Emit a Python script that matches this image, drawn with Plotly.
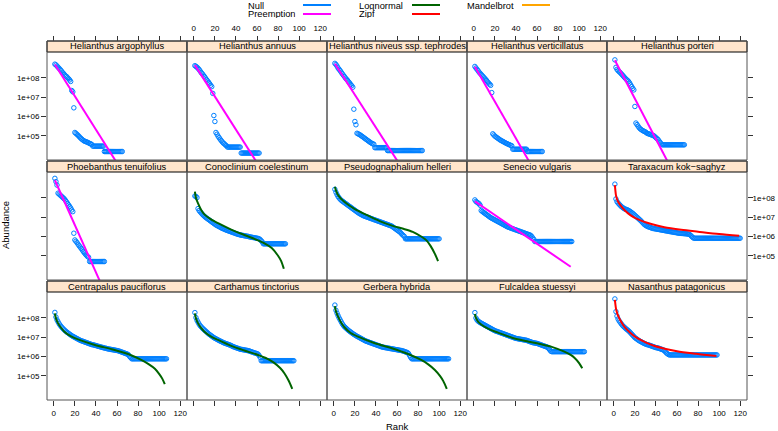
import plotly.graph_objects as go

W, H = 778, 431

# ---------------- data (log10 abundance by rank) ----------------
titles = ["Helianthus argophyllus", "Helianthus annuus", "Helianthus niveus ssp. tephrodes",
          "Helianthus verticillatus", "Helianthus porteri",
          "Phoebanthus tenuifolius", "Conoclinium coelestinum", "Pseudognaphalium helleri",
          "Senecio vulgaris", "Taraxacum kok\u2212saghyz",
          "Centrapalus pauciflorus", "Carthamus tinctorius", "Gerbera hybrida",
          "Fulcaldea stuessyi", "Nasanthus patagonicus"]

abund_1 = [8.72, 8.68, 8.62, 8.56, 8.50, 8.44, 8.38, 8.30, 8.25, 8.18, 8.12, 8.08, 8.02, 7.96, 7.90, 7.82,
           7.35, 7.28, 6.45,
           5.17, 5.12, 5.07, 5.02, 4.96, 4.90, 4.85, 4.80, 4.76, 4.72, 4.70, 4.68, 4.66, 4.63, 4.60, 4.58, 4.55] \
          + [4.46] * 11 + [4.18] * 18
abund_2 = [8.64, 8.60, 8.56, 8.50, 8.44, 8.36, 8.28, 8.22, 8.15, 8.08, 8.00, 7.92, 7.85, 7.78, 7.70, 7.62, 7.55,
           7.20, 6.05, 5.74,
           5.17, 5.08, 4.98, 4.90, 4.82, 4.75, 4.68, 4.62, 4.58, 4.52, 4.48] + [4.41] * 13 + [4.10] * 18
abund_3 = [8.76, 8.70, 8.62, 8.52, 8.45, 8.38, 8.30, 8.22, 8.15, 8.08, 8.00, 7.94, 7.88, 7.80, 7.74, 7.66, 7.60, 7.52,
           6.38, 5.74, 5.57,
           5.13, 5.10, 5.07, 5.04, 5.00, 4.96, 4.92, 4.88, 4.84, 4.80, 4.76, 4.72, 4.68, 4.64, 4.61, 4.58, 4.56] \
          + [4.38] * 12 + [4.23] * 34
abund_4 = [8.60, 8.52, 8.45, 8.38, 8.30, 8.24, 8.18, 8.12, 8.06, 8.00, 7.94, 7.88, 7.80, 7.74, 7.68, 7.62, 7.24,
           5.10, 5.04, 4.98, 4.94, 4.90, 4.86, 4.82, 4.78, 4.75, 4.72, 4.69, 4.66, 4.63, 4.60, 4.58, 4.55, 4.53,
           4.50, 4.48] + [4.30] * 14 + [4.18] * 15
abund_5 = [8.94, 8.55, 8.45, 8.38, 8.33, 8.28, 8.22, 8.16, 8.10, 8.04, 7.98, 7.92, 7.88, 7.82, 7.74, 7.64, 7.55,
           7.46, 7.38, 6.52,
           5.66, 5.58, 5.50, 5.42, 5.36, 5.32, 5.28, 5.25, 5.22, 5.20,
           5.15, 5.12, 5.10, 5.08, 5.06, 5.04, 5.02, 5.00, 4.95, 4.90, 4.85, 4.80, 4.72, 4.65, 4.58] + [4.53] * 22
abund_6 = [9.02, 8.85, 8.67, 8.25, 8.20, 8.15, 8.10, 8.05, 8.00, 7.95, 7.88, 7.80, 7.72, 7.64, 7.56, 7.48, 7.38,
           7.29, 6.17,
           5.82, 5.75, 5.68, 5.60, 5.52, 5.45, 5.38, 5.30, 5.22, 5.15, 5.08, 5.02, 4.96, 4.92] + [4.70] * 15
abund_7 = [8.10, 8.08, 8.02, 7.45, 7.35, 7.28, 7.22, 7.16, 7.10, 7.05,
           7.00, 6.96, 6.92, 6.88, 6.84, 6.80, 6.76, 6.72, 6.68, 6.64,
           6.60, 6.57, 6.54, 6.51, 6.48, 6.45, 6.42, 6.40, 6.38, 6.35,
           6.33, 6.31, 6.29, 6.27, 6.25, 6.23, 6.21, 6.19, 6.17, 6.15,
           6.13, 6.11, 6.10, 6.08, 6.07, 6.06, 6.05, 6.04, 6.03, 6.02,
           6.01, 6.00, 5.98, 5.97, 5.96, 5.95, 5.94, 5.93, 5.92, 5.91,
           5.90, 5.88, 5.84, 5.78, 5.72] + [5.62] * 22
abund_8 = [8.45, 8.30, 8.18, 8.08, 8.00, 7.94, 7.88, 7.84, 7.80, 7.76,
           7.72, 7.68, 7.64, 7.60, 7.56, 7.52, 7.48, 7.44, 7.40, 7.36,
           7.32, 7.28, 7.24, 7.20, 7.17, 7.14, 7.11, 7.08, 7.06, 7.04,
           7.02, 7.00, 6.98, 6.96, 6.94, 6.92, 6.90, 6.88, 6.86, 6.84,
           6.82, 6.80, 6.78, 6.76, 6.74, 6.72, 6.70, 6.68, 6.66, 6.64,
           6.62, 6.60, 6.58, 6.56, 6.54, 6.50, 6.46, 6.42, 6.38, 6.34,
           6.30, 6.26, 6.22, 6.16, 6.10, 6.05, 6.00] + [5.88] * 33
abund_9 = [7.90, 7.82, 7.78, 7.74, 7.70, 7.62,
           7.35, 7.30, 7.26, 7.22, 7.18, 7.14, 7.10, 7.06, 7.02, 6.98, 6.95, 6.92, 6.89, 6.86,
           6.83, 6.80, 6.77, 6.74, 6.71, 6.68, 6.65, 6.62, 6.59, 6.56,
           6.53, 6.50, 6.48, 6.46, 6.44, 6.42, 6.40, 6.38, 6.36, 6.34,
           6.32, 6.30, 6.28, 6.26, 6.24, 6.22, 6.20, 6.18, 6.16, 6.14, 6.12, 6.10, 6.08, 6.06, 6.00, 5.92,
           5.85] + [5.74] * 36
abund_10 = [8.72, 7.95, 7.81, 7.74, 7.68, 7.62, 7.56, 7.52, 7.48, 7.44,
            7.42, 7.40, 7.38, 7.35, 7.32, 7.28, 7.24, 7.20, 7.15, 7.10,
            7.05, 7.00, 6.95, 6.90, 6.85, 6.80, 6.74, 6.68, 6.62, 6.58,
            6.55, 6.52, 6.50, 6.48, 6.46, 6.44, 6.42, 6.41, 6.40, 6.39,
            6.38, 6.37, 6.36, 6.35, 6.34, 6.33, 6.32, 6.31, 6.30, 6.29,
            6.28, 6.27, 6.26, 6.25, 6.24, 6.23, 6.22, 6.21, 6.20, 6.19,
            6.18, 6.17, 6.17, 6.16, 6.16, 6.15, 6.15, 6.14, 6.14, 6.13, 6.12, 6.10, 6.06, 6.00,
            5.95] + [5.91] * 45
abund_11 = [8.29, 8.05, 7.90, 7.80, 7.70, 7.62, 7.55, 7.49, 7.43, 7.38,
            7.33, 7.28, 7.24, 7.20, 7.16, 7.12, 7.08, 7.05, 7.02, 6.99,
            6.96, 6.93, 6.90, 6.87, 6.84, 6.82, 6.80, 6.78, 6.76, 6.74,
            6.72, 6.70, 6.68, 6.66, 6.64, 6.62, 6.61, 6.60, 6.58, 6.57,
            6.55, 6.53, 6.52, 6.50, 6.49, 6.47, 6.46, 6.44, 6.43, 6.42,
            6.40, 6.39, 6.38, 6.37, 6.36, 6.35, 6.34, 6.33, 6.32, 6.31,
            6.30, 6.28, 6.26, 6.24, 6.22, 6.20, 6.18, 6.16, 6.14, 6.12, 6.08, 6.00,
            5.94] + [5.88] * 34
abund_12 = [8.28, 8.02, 7.88, 7.78, 7.68, 7.60, 7.54, 7.48, 7.43, 7.38,
            7.33, 7.28, 7.23, 7.18, 7.14, 7.10, 7.06, 7.02, 6.98, 6.95,
            6.92, 6.89, 6.86, 6.83, 6.80, 6.78, 6.75, 6.72, 6.70, 6.68,
            6.66, 6.64, 6.62, 6.60, 6.58, 6.55, 6.52, 6.50, 6.48, 6.46,
            6.44, 6.42, 6.40, 6.38, 6.37, 6.36, 6.35, 6.34, 6.33, 6.32,
            6.31, 6.30, 6.28, 6.26, 6.24, 6.22, 6.20, 6.18, 6.17, 6.15, 6.12, 6.05,
            5.95] + [5.78] * 32
abund_13 = [8.67, 8.40, 8.25, 8.12, 8.00, 7.90, 7.80, 7.70, 7.62, 7.55,
            7.50, 7.45, 7.40, 7.35, 7.31, 7.27, 7.23, 7.19, 7.15, 7.12,
            7.08, 7.05, 7.02, 6.99, 6.96, 6.93, 6.90, 6.87, 6.84, 6.81,
            6.79, 6.77, 6.75, 6.73, 6.71, 6.69, 6.67, 6.65, 6.63, 6.61,
            6.59, 6.57, 6.55, 6.53, 6.51, 6.49, 6.48, 6.47, 6.46, 6.45,
            6.44, 6.43, 6.42, 6.41, 6.40, 6.39, 6.38, 6.37, 6.36, 6.35,
            6.34, 6.33, 6.32, 6.31, 6.30, 6.28, 6.26, 6.24, 6.22, 6.20, 6.15, 6.05,
            5.95] + [5.88] * 36
abund_14 = [8.28, 8.00, 7.90, 7.84, 7.80, 7.76, 7.73, 7.70, 7.67, 7.64,
            7.61, 7.58, 7.55, 7.52, 7.49, 7.46, 7.43, 7.40, 7.37, 7.34,
            7.32, 7.30, 7.28, 7.26, 7.24, 7.22, 7.20, 7.18, 7.16, 7.14,
            7.12, 7.10, 7.08, 7.06, 7.04, 7.02, 7.00, 6.98, 6.96, 6.94,
            6.93, 6.92, 6.91, 6.90, 6.89, 6.88, 6.87, 6.86, 6.85, 6.84,
            6.82, 6.80, 6.78, 6.76, 6.74, 6.72, 6.71, 6.70, 6.69, 6.68,
            6.66, 6.64, 6.62, 6.60, 6.58, 6.56, 6.54, 6.52, 6.50, 6.48, 6.42, 6.35,
            6.28] + [6.25] * 32
abund_15 = [8.99, 8.33, 8.10, 7.95, 7.85, 7.78, 7.70, 7.63, 7.57, 7.52,
            7.47, 7.42, 7.38, 7.33, 7.28, 7.22, 7.16, 7.10, 7.04, 6.98,
            6.94, 6.90, 6.86, 6.82, 6.79, 6.76, 6.73, 6.70, 6.67, 6.65,
            6.63, 6.61, 6.60, 6.58, 6.56, 6.54, 6.52, 6.50, 6.48, 6.46,
            6.45, 6.44, 6.42, 6.40, 6.38, 6.36, 6.34, 6.30, 6.24, 6.18,
            6.14, 6.10] + [6.08] * 46

# fitted model curves: (model, ranks, log10 abundance)
fit_1 = ("Preemption", [1, 65], [8.70, 3.15])
fit_2 = ("Preemption", [1, 65], [8.67, 3.17])
fit_3 = ("Preemption", [1, 65], [8.74, 3.30])
fit_4 = ("Preemption", [1, 60], [8.58, 2.95])
fit_5 = ("Preemption", [1, 55], [8.92, 3.25])
fit_6 = ("Preemption", [1, 50], [8.92, 2.91])
fit_7 = ("Lognormal", [1, 2, 4, 7, 10, 16, 23, 35.5, 48, 61, 68, 74, 80, 83, 85.5],
         [8.33, 8.00, 7.72, 7.38, 7.15, 6.90, 6.69, 6.36, 6.08, 5.80, 5.62, 5.40, 5.00, 4.72, 4.32])
fit_8 = ("Lognormal", [1, 2, 4, 10, 20, 30, 43.5, 56, 66, 75, 83, 88, 92, 96, 99],
         [8.59, 8.40, 8.15, 7.80, 7.42, 7.15, 6.80, 6.55, 6.40, 6.24, 6.00, 5.80, 5.50, 5.10, 4.72])
fit_9 = ("Preemption", [1, 92], [7.82, 4.43])
fit_10 = ("Zipf", [1, 2, 3, 4, 6, 10, 16, 23, 35.6, 48, 64, 80, 100, 119],
          [8.67, 8.15, 7.95, 7.82, 7.64, 7.38, 7.10, 6.89, 6.65, 6.48, 6.35, 6.25, 6.13, 6.04])
fit_11 = ("Lognormal", [1, 2, 4, 7, 10, 16, 23, 39, 55, 70.5, 83, 90, 96, 100, 103, 105.4],
          [8.24, 7.98, 7.72, 7.48, 7.29, 7.06, 6.89, 6.60, 6.38, 6.13, 5.82, 5.60, 5.36, 5.10, 4.85, 4.56])
fit_12 = ("Lognormal", [1, 2, 4, 7, 10, 16, 23, 35.6, 48, 61, 70, 76, 82, 86, 90, 93.5],
          [8.24, 7.98, 7.72, 7.47, 7.29, 7.05, 6.86, 6.55, 6.31, 6.08, 5.88, 5.68, 5.40, 5.13, 4.75, 4.32])
fit_13 = ("Lognormal", [1, 2, 4, 7, 10, 16, 23, 39, 55, 70.5, 83, 90, 96, 101, 104, 107.3],
          [8.62, 8.35, 8.07, 7.75, 7.52, 7.22, 7.03, 6.69, 6.43, 6.13, 5.82, 5.58, 5.30, 4.98, 4.72, 4.32])
fit_14 = ("Lognormal", [1, 2, 4, 7, 10, 16, 23, 35.6, 48, 61, 74, 86, 92, 96, 100, 103],
          [8.21, 8.00, 7.81, 7.66, 7.55, 7.38, 7.24, 6.99, 6.82, 6.67, 6.50, 6.25, 6.08, 5.91, 5.66, 5.39])
fit_15 = ("Zipf", [1, 2, 3, 4, 6, 8.5, 12, 18, 24, 30.7, 38, 46.5, 54, 62.4, 70, 78.3, 88, 97.4],
          [8.94, 8.50, 8.28, 8.12, 7.90, 7.66, 7.42, 7.12, 6.90, 6.72, 6.56, 6.43, 6.34, 6.25, 6.19, 6.14,
           6.08, 6.03])

abund = [abund_1, abund_2, abund_3, abund_4, abund_5, abund_6, abund_7, abund_8, abund_9, abund_10,
         abund_11, abund_12, abund_13, abund_14, abund_15]
fits = [fit_1, fit_2, fit_3, fit_4, fit_5, fit_6, fit_7, fit_8, fit_9, fit_10,
        fit_11, fit_12, fit_13, fit_14, fit_15]

legend_names = ["Null", "Preemption", "Lognormal", "Zipf", "Mandelbrot"]
x_ticks = [0, 20, 40, 60, 80, 100, 120]
y_ticks = [1e5, 1e6, 1e7, 1e8]
y_ticktext = ["1e+05", "1e+06", "1e+07", "1e+08"]

# ---------------- styling ----------------
COLORS = {"Null": "#0080ff", "Preemption": "#ff00ff", "Lognormal": "#006400",
          "Zipf": "#ff0000", "Mandelbrot": "#ffa500"}
FONT = "Liberation Sans, Arial, Helvetica, sans-serif"
STRIP_BG = "#ffe5cc"
BORDER = "#555555"

PANEL_L, PANEL_W = 47, 140
ROW_TOP = [52, 172, 292]
ROW_BOT = [160, 280, 400]
STRIP_TOP = [41, 161, 281]


def px(x):
    return x / W


def py(y):
    return 1 - y / H


fig = go.Figure()
layout = {}
shapes = []
annotations = []

for i in range(15):
    r, c = divmod(i, 5)
    k = "" if i == 0 else str(i + 1)
    xa, ya = "x" + k, "y" + k
    x0, x1 = PANEL_L + PANEL_W * c, PANEL_L + PANEL_W * (c + 1)

    vals = abund[i]
    fig.add_trace(go.Scatter(
        x=list(range(1, len(vals) + 1)), y=[10 ** v for v in vals], mode="markers",
        marker=dict(symbol="circle-open", size=4.5, color=COLORS["Null"], line=dict(width=1)),
        xaxis=xa, yaxis=ya, showlegend=False, hoverinfo="skip"))
    model, fr, fv = fits[i]
    fig.add_trace(go.Scatter(
        x=fr, y=[10 ** v for v in fv], mode="lines",
        line=dict(color=COLORS[model], width=2, shape="linear" if model == "Preemption" else "spline",
                  smoothing=0.8),
        xaxis=xa, yaxis=ya, showlegend=False, hoverinfo="skip"))

    xaxis = dict(domain=[px(x0), px(x1)], range=[-6.5, 126.5], showgrid=False, zeroline=False,
                 showline=False, tickvals=x_ticks, ticktext=[str(t) for t in x_ticks],
                 tickfont=dict(family=FONT, size=8, color="black"), ticks="",
                 showticklabels=False, anchor=ya, fixedrange=True)
    if r == 0:
        xaxis.update(side="top", anchor="free", position=py(STRIP_TOP[0]), ticks="outside",
                     ticklen=5, tickcolor="#333333", showticklabels=(c in (1, 3)), ticklabelstandoff=2)
    elif r == 2:
        xaxis.update(side="bottom", ticks="outside", ticklen=5, tickcolor="#333333",
                     showticklabels=(c in (0, 2, 4)))
    yaxis = dict(domain=[py(ROW_BOT[r]), py(ROW_TOP[r])], type="log", range=[3.74, 9.35],
                 showgrid=False, zeroline=False, showline=False, tickvals=y_ticks, ticktext=y_ticktext,
                 tickfont=dict(family=FONT, size=8, color="black"), ticks="", showticklabels=False,
                 anchor=xa, fixedrange=True)
    if c == 0:
        yaxis.update(side="left", ticks="outside", ticklen=5, tickcolor="#333333",
                     showticklabels=(r in (0, 2)))
    elif c == 4:
        yaxis.update(side="right", ticks="outside", ticklen=5, tickcolor="#333333",
                     showticklabels=(r == 1), ticklabelstandoff=-2)
    layout["xaxis" + k] = xaxis
    layout["yaxis" + k] = yaxis

    # strip
    shapes.append(dict(type="rect", xref="paper", yref="paper", x0=px(x0), x1=px(x1),
                       y0=py(ROW_TOP[r]), y1=py(STRIP_TOP[r]), fillcolor=STRIP_BG,
                       line=dict(color="black", width=1), layer="below"))
    annotations.append(dict(xref="paper", yref="paper", x=px((x0 + x1) / 2),
                            y=py((ROW_TOP[r] + STRIP_TOP[r]) / 2), text=titles[i], showarrow=False,
                            font=dict(family=FONT, size=9.3, color="black"),
                            xanchor="center", yanchor="middle"))
    # panel border
    shapes.append(dict(type="rect", xref="paper", yref="paper", x0=px(x0), x1=px(x1),
                       y0=py(ROW_BOT[r]), y1=py(STRIP_TOP[r]), line=dict(color=BORDER, width=1)))

# axis titles
annotations.append(dict(xref="paper", yref="paper", x=px(397), y=py(426), text="Rank", showarrow=False,
                        font=dict(family=FONT, size=9.5, color="black"), xanchor="center", yanchor="middle"))
annotations.append(dict(xref="paper", yref="paper", x=px(5), y=py(225), text="Abundance", showarrow=False,
                        textangle=-90, font=dict(family=FONT, size=9.5, color="black"),
                        xanchor="center", yanchor="middle"))

# key at the top
key_pos = {"Null": (246, 303, 5.0), "Preemption": (246, 303, 14.0),
           "Lognormal": (357, 412, 5.0), "Zipf": (357, 412, 14.0),
           "Mandelbrot": (465, 522, 5.0)}
for name in legend_names:
    tx, lx, yy = key_pos[name]
    annotations.append(dict(xref="paper", yref="paper", x=px(tx), y=py(yy), text=name, showarrow=False,
                            font=dict(family=FONT, size=9.3, color="black"), height=9,
                            xanchor="left", yanchor="middle"))
    shapes.append(dict(type="line", xref="paper", yref="paper", x0=px(lx), x1=px(lx + 28),
                       y0=py(yy), y1=py(yy), line=dict(color=COLORS[name], width=2)))

fig.update_layout(width=W, height=H, margin=dict(l=0, r=0, t=0, b=0), plot_bgcolor="white",
                  paper_bgcolor="white", showlegend=False, shapes=shapes, annotations=annotations,
                  **layout)
fig.write_html("out.html", config={"displayModeBar": False},
               post_script="document.body.style.margin='0';document.body.style.overflow='hidden';")
